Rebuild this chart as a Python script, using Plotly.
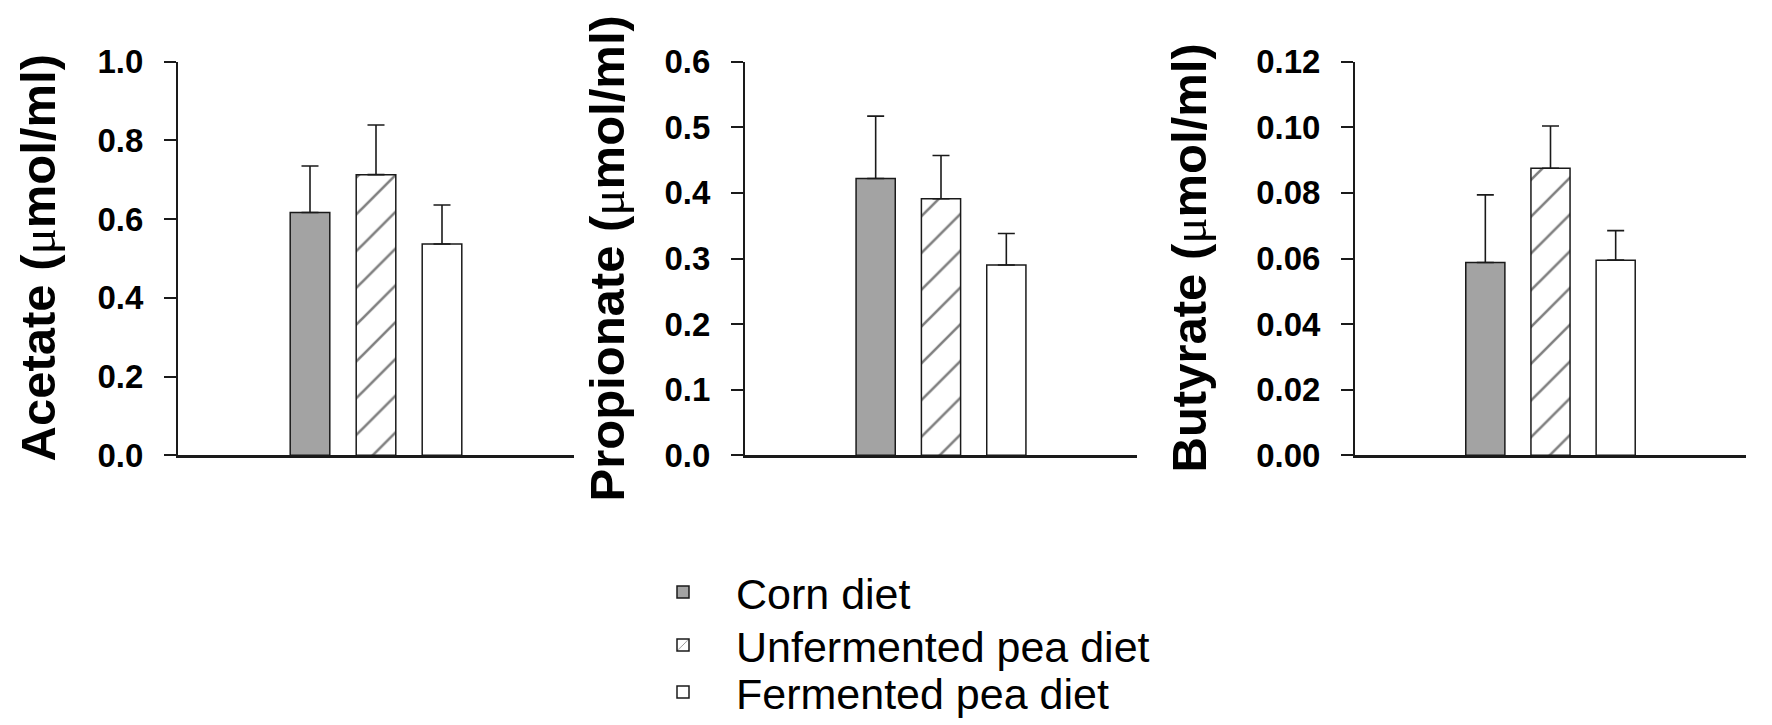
import plotly.graph_objects as go

# diets and values (mean + upper SE)
diets = ["Corn diet", "Unfermented pea diet", "Fermented pea diet"]

acetate = [0.617, 0.713, 0.537]
acetate_se = [0.118, 0.126, 0.099]

propionate = [0.422, 0.391, 0.290]
propionate_se = [0.095, 0.066, 0.048]

butyrate = [0.0588, 0.0875, 0.0595]
butyrate_se = [0.0206, 0.0129, 0.0090]

panels = [
    ("Acetate", acetate, acetate_se, 1.0, 0.2, ".1f"),
    ("Propionate", propionate, propionate_se, 0.6, 0.1, ".1f"),
    ("Butyrate", butyrate, butyrate_se, 0.12, 0.02, ".2f"),
]

W, H = 1772, 725
OFF = 8  # page body margin, the figure is drawn 8px down/right
font = "Liberation Sans"
ink = "#1a1a1a"

# bar styles per diet
styles = [
    dict(color="#a3a3a3", pattern=dict(shape="")),
    dict(color="white", pattern=dict(shape="/", size=26, solidity=0.1, fgcolor="black", bgcolor="white")),
    dict(color="white", pattern=dict(shape="")),
]

# axis pixel positions (as seen on the page) -> paper domains
x_px = [(178, 574), (745, 1137), (1355, 1746)]
y_px = (455.3, 61.7)
x_dom = [((a - OFF) / W, (b - OFF) / W) for a, b in x_px]
y_dom = [1 - (y_px[0] - OFF) / H, 1 - (y_px[1] - OFF) / H]
title_x = [30, 599, 1181]
legend_rows = [592, 645, 692]
legend_names = ["legend", "legend2", "legend3"]

fig = go.Figure()
layout = {}
annotations = []

for p, (name, vals, se, top, step, fmt) in enumerate(panels):
    n = "" if p == 0 else str(p + 1)
    for i, d in enumerate(diets):
        fig.add_trace(go.Bar(
            x=[d], y=[vals[i]],
            name=d, showlegend=(p == 0), legend=legend_names[i],
            width=0.6,
            marker=dict(color=styles[i]["color"], pattern=styles[i]["pattern"],
                        line=dict(color=ink, width=1.5)),
            error_y=dict(type="data", array=[se[i]], arrayminus=[0], symmetric=False,
                         color=ink, thickness=1.6, width=8.5),
            xaxis="x" + n, yaxis="y" + n,
        ))
    layout["xaxis" + n] = dict(
        domain=list(x_dom[p]), anchor="y" + n,
        type="category", range=[-2, 4], showticklabels=False, ticks="",
        showline=True, linecolor=ink, linewidth=2.5, showgrid=False, zeroline=False,
        fixedrange=True,
    )
    layout["yaxis" + n] = dict(
        domain=y_dom, anchor="x" + n, range=[0, top], dtick=step, tick0=0,
        tickformat=fmt, ticks="outside", ticklen=12, tickwidth=2, tickcolor=ink,
        ticklabelstandoff=14,
        showline=True, linecolor=ink, linewidth=2, showgrid=False, zeroline=False,
        tickfont=dict(family=font, size=33, color="black", weight="bold"),
    )
    annotations.append(dict(
        text="<b>" + name + " (</b><span style='font-family:Liberation Serif'>μ</span><b>mol/ml)</b>",
        xref="paper", yref="paper", x=title_x[p] / W, y=(y_dom[0] + y_dom[1]) / 2,
        xanchor="center", yanchor="middle", textangle=-90, showarrow=False,
        font=dict(family=font, size=49, color="black"),
    ))

# one legend per row so the row spacing can follow the reference
for ln, row in zip(legend_names, legend_rows):
    layout[ln] = dict(
        x=622 / W, y=1 - (row - OFF) / H, xanchor="left", yanchor="middle",
        itemwidth=96, bgcolor="rgba(0,0,0,0)",
        font=dict(family=font, size=43, color="black"),
    )

fig.update_layout(
    **layout,
    annotations=annotations,
    barmode="overlay",
    width=W, height=H,
    margin=dict(l=0, r=0, t=0, b=0, autoexpand=False),
    paper_bgcolor="white", plot_bgcolor="white",
    showlegend=True,
)

fig.write_html("out.html")
